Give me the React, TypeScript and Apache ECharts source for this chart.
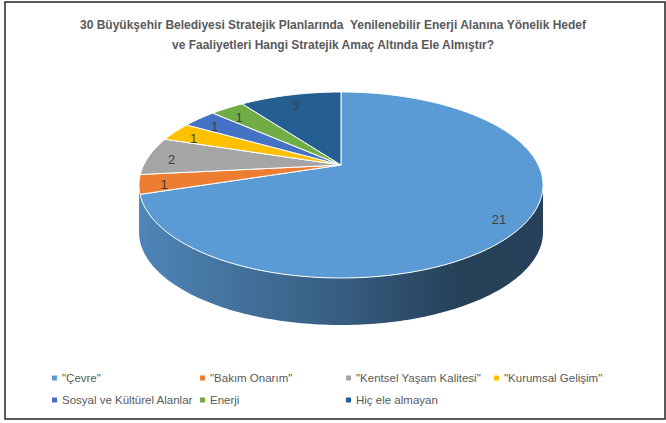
import React, { useEffect, useRef } from "react";
import * as echarts from "echarts";

const titleLines = [
  "30 Büyükşehir Belediyesi Stratejik Planlarında  Yenilenebilir Enerji Alanına Yönelik Hedef",
  "ve Faaliyetleri Hangi Stratejik Amaç Altında Ele Almıştır?",
];
const categories = [
  '"Çevre"',
  '"Bakım Onarım"',
  '"Kentsel Yaşam Kalitesi"',
  '"Kurumsal Gelişim"',
  "Sosyal ve Kültürel Alanlar",
  "Enerji",
  "Hiç ele almayan",
];
const values = [21, 1, 2, 1, 1, 1, 3];
const colors = ["#5B9BD5", "#ED7D31", "#A5A5A5", "#FFC000", "#4472C4", "#70AD47", "#255E91"];

const FONT = '"Liberation Sans Narrow", "Liberation Sans", Arial, sans-serif';

// pie geometry (layout)
const CX = 341;
const CY = 165;
const A = 197.3;
const B = 88.7;
const K = 0.215;
const DEPTH = 47;
const LABEL_R = 0.88;
const LABEL_DY = 3;

const legendPos: number[][] = [
  [52, 371],
  [200, 371],
  [346, 371],
  [494, 371],
  [52, 393],
  [200, 393],
  [346, 393],
];

function proj(aDeg: number, r: number, dz: number): number[] {
  const a = (aDeg * Math.PI) / 180;
  const u = r * Math.sin(a);
  const v = -r * Math.cos(a);
  const w = 1 - K * v;
  return [CX + (A * u) / w, CY + (B * v) / w + dz];
}

function arc(s: number, e: number, dz: number): number[][] {
  const n = Math.max(2, Math.ceil((e - s) / 1));
  const pts: number[][] = [];
  for (let i = 0; i <= n; i++) pts.push(proj(s + ((e - s) * i) / n, 1, dz));
  return pts;
}

function shade(hex: string, f: number): string {
  const n = parseInt(hex.slice(1), 16);
  const r = Math.round(((n >> 16) & 255) * f);
  const g = Math.round(((n >> 8) & 255) * f);
  const b = Math.round((n & 255) * f);
  return `rgb(${r},${g},${b})`;
}

const SIL = (Math.acos(-K) * 180) / Math.PI; // ~102.4
const SIL2 = 360 - SIL;

export default function App() {
  const ref = useRef<HTMLDivElement>(null);
  useEffect(() => {
    if (!ref.current) return;
    const chart = echarts.init(ref.current, undefined, { renderer: "svg" });
    const total = values.reduce((a, b) => a + b, 0);
    const starts = values.map((_, i) => values.slice(0, i).reduce((a, b) => a + b, 0));

    const series = categories.map((name, i) => ({
      type: "custom",
      name,
      coordinateSystem: "none",
      itemStyle: { color: colors[i] },
      data: [[starts[i], values[i]]],
      renderItem: (params: any, api: any) => {
        const s0 = api.value(0);
        const v = api.value(1);
        const s = (s0 / total) * 360;
        const e = ((s0 + v) / total) * 360;
        const color = colors[i];
        const children: any[] = [];
        const a0 = Math.max(s, SIL);
        const a1 = Math.min(e, SIL2);
        if (a1 > a0) {
          const top = arc(a0, a1, 0);
          const bot = arc(a0, a1, DEPTH).reverse();
          children.push({
            type: "polygon",
            shape: { points: top.concat(bot) },
            style: {
              fill: new echarts.graphic.LinearGradient(
                CX - 202,
                0,
                CX + 202,
                0,
                [
                  { offset: 0, color: shade(color, 0.86) },
                  { offset: 0.5, color: shade(color, 0.6) },
                  { offset: 0.8, color: shade(color, 0.41) },
                  { offset: 1, color: shade(color, 0.42) },
                ],
                true
              ),
            },
          });
        }
        children.push({
          type: "polygon",
          shape: { points: [[CX, CY]].concat(arc(s, e, 0)) },
          style: { fill: color, stroke: "#ffffff", lineWidth: 1 },
        });
        const mid = (s + e) / 2;
        const lp = proj(mid, LABEL_R, LABEL_DY);
        children.push({
          type: "text",
          z2: 100,
          style: {
            text: String(v),
            x: lp[0],
            y: lp[1],
            fill: "#404040",
            fontSize: 13,
            fontFamily: FONT,
            align: "center",
            verticalAlign: "middle",
          },
        });
        return { type: "group", children };
      },
    }));

    const legends = categories.map((name, i) => ({
      data: [name],
      left: legendPos[i][0],
      top: legendPos[i][1],
      padding: 0,
      icon: "rect",
      itemWidth: 5,
      itemHeight: 5,
      selectedMode: false,
      textStyle: { color: "#595959", fontSize: 11.5, fontFamily: FONT, lineHeight: 14 },
    }));

    chart.setOption({
      animation: false,
      backgroundColor: "#ffffff",
      title: {
        text: titleLines.join("\n"),
        left: "center",
        top: 10,
        textStyle: {
          color: "#595959",
          fontSize: 12,
          fontWeight: "bold",
          fontFamily: FONT,
          lineHeight: 20,
        },
      },
      legend: legends,
      graphic: [
        {
          type: "rect",
          shape: { x: 5, y: 2, width: 660, height: 417 },
          style: { fill: "none", stroke: "#262626", lineWidth: 1.5 },
          silent: true,
        },
      ],
      series,
    });
    return () => chart.dispose();
  }, []);
  return (
    <div
      ref={ref}
      style={{ position: "absolute", left: 0, top: 0, width: 666, height: 423 }}
    />
  );
}
